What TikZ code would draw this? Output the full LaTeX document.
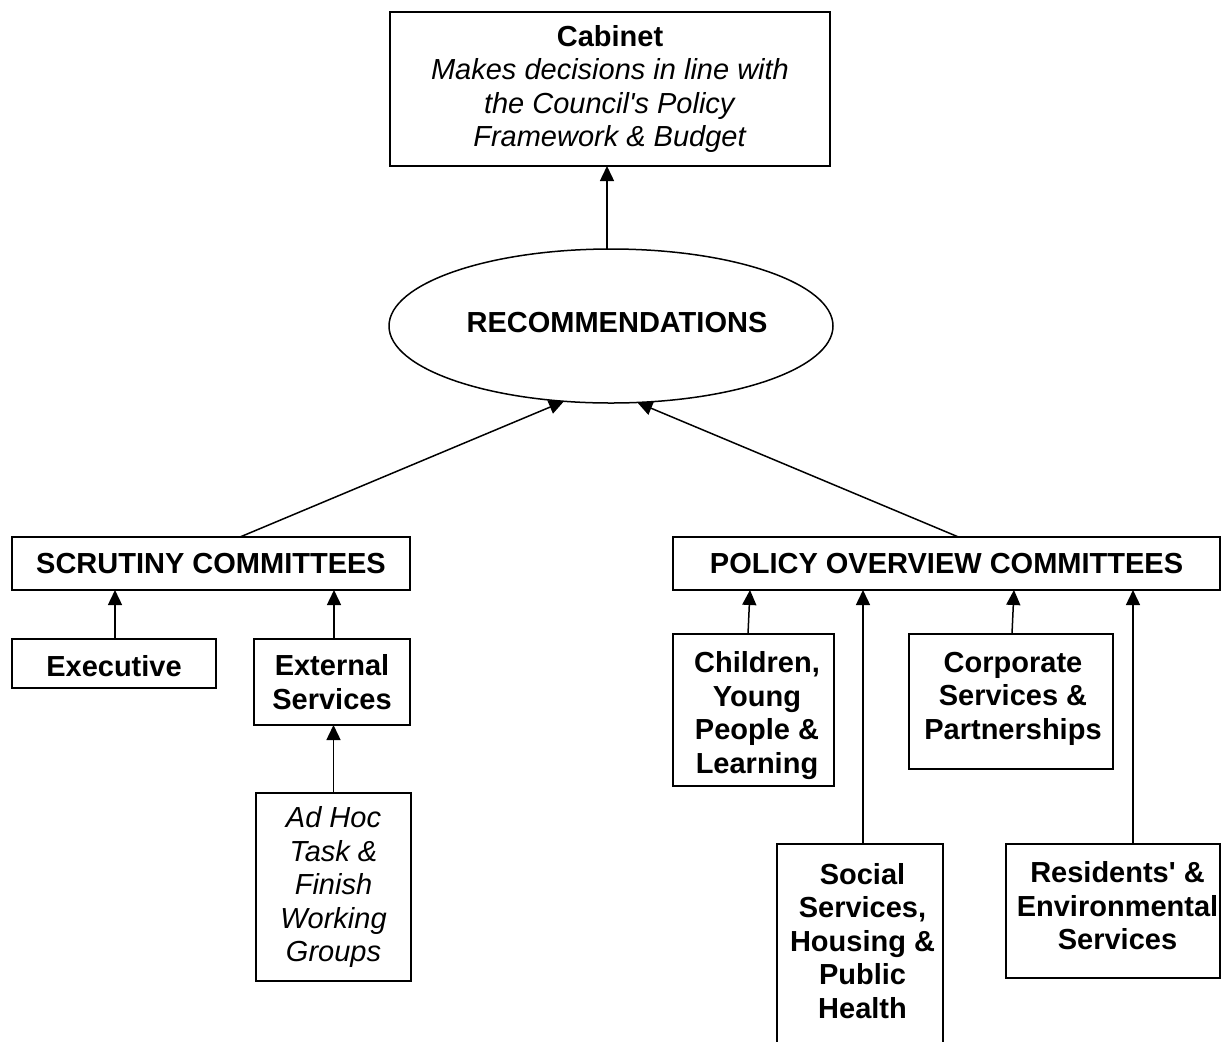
\documentclass[tikz,border=0pt]{standalone}
\usepackage{fontspec}
\setmainfont{Liberation Sans}
\usetikzlibrary{shapes.geometric,arrows.meta}
\newcommand{\fsz}{\fontsize{14.5}{16.75}\selectfont}
\begin{document}
\begin{tikzpicture}[x=0.5pt,y=-0.5pt,
  box/.style={draw,line width=0.75pt,inner sep=0pt,outer sep=0pt,align=center,font=\fsz\bfseries},
  sz/.style 2 args={minimum width=#1*0.5pt,minimum height=#2*0.5pt},
  lab/.style={align=center,font=\fsz\bfseries,inner sep=0pt},
  ell/.style={draw,ellipse,line width=0.75pt,inner sep=0pt,outer sep=0pt},
  arr/.style={line width=0.75pt,-{Triangle[length=7.5pt,width=7pt]}}]
\useasboundingbox (0,0) rectangle (1222,1041);
\clip (0,0) rectangle (1222,1041);
% top
\node[box,sz={440}{154},font=\fsz] (cab) at (610,89)
  {\textbf{Cabinet}\\\textit{Makes decisions in line with}\\\textit{the Council\textquotesingle s Policy}\\\textit{Framework \& Budget}};
\node[ell,sz={444}{154},label={[lab,xshift=3pt,yshift=1.5pt]center:RECOMMENDATIONS}] (rec) at (611,326) {};
% left branch
\node[box,sz={398}{53}] (scr) at (211,563.5) {SCRUTINY COMMITTEES};
\node[box,sz={204}{49},label={[lab,yshift=-1.5pt]center:Executive}] (exe) at (114,663.5) {};
\node[box,sz={156}{86}] (ext) at (332,682) {External\\Services};
\node[box,sz={155}{188},font=\fsz\itshape] (adh) at (333.5,887) {Ad Hoc\\Task \&\\Finish\\Working\\Groups};
% right branch
\node[box,sz={547}{53}] (pol) at (946.5,563.5) {POLICY OVERVIEW COMMITTEES};
\node[box,sz={161}{152},label={[lab,xshift=1.75pt,yshift=-2.75pt]center:{Children,\\Young\\People \&\\Learning}}] (chi) at (753.5,710) {};
\node[box,sz={204}{135},label={[lab,xshift=1pt,yshift=1.5pt]center:{Corporate\\Services \&\\Partnerships}}] (cor) at (1011,701.5) {};
\node[box,sz={166}{206},label={[lab,xshift=1.25pt,yshift=3pt]center:{Social\\Services,\\Housing \&\\Public\\Health}}] (soc) at (860,947) {};
\node[box,sz={214}{134},label={[lab,xshift=2.25pt,yshift=2.5pt]center:{Residents\textquotesingle{} \&\\Environmental\\Services}}] (res) at (1113,911) {};
% connectors
\draw[arr] ([xshift=-2pt]rec.north) -- ([xshift=-1.5pt]cab.south);
\draw[arr] ([xshift=14.5pt]scr.north) -- (rec.238.6);
\draw[arr] ([xshift=6pt]pol.north) -- (rec.289.5);
\draw[arr] ([xshift=0.5pt]exe.north) -- ([xshift=0.5pt]exe.north |- scr.south);
\draw[arr] ([xshift=1pt]ext.north) -- ([xshift=1pt]ext.north |- scr.south);
\draw[arr] (adh.north) -- (adh.north |- ext.south);
\draw[arr] ([xshift=-2.75pt]chi.north) -- ([xshift=-1.75pt]chi.north |- pol.south);
\draw[arr] ([xshift=1.5pt]soc.north) -- ([xshift=1.5pt]soc.north |- pol.south);
\draw[arr] ([xshift=0.5pt]cor.north) -- ([xshift=1.5pt]cor.north |- pol.south);
\draw[arr] ([xshift=10pt]res.north) -- ([xshift=10pt]res.north |- pol.south);
\end{tikzpicture}
\end{document}
